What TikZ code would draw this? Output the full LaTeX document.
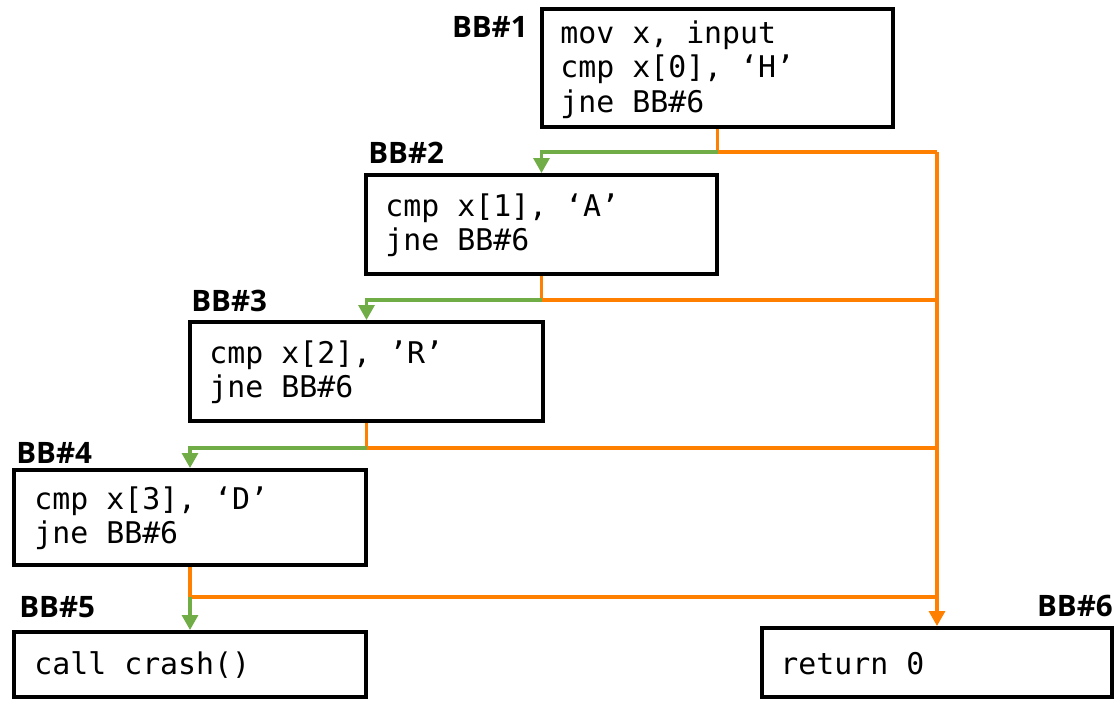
\documentclass[tikz,border=0pt]{standalone}
\usepackage{fontspec}
\newfontfamily\monof{DejaVu Sans Mono}
\newfontfamily\labf{Open Sans}
\usetikzlibrary{arrows.meta}
\definecolor{cgreen}{HTML}{70AD47}
\definecolor{corange}{HTML}{FF8000}
\begin{document}
\begin{tikzpicture}[x=0.02cm,y=-0.02cm,
  bb/.style={draw=black,line width=0.08cm,rectangle,inner sep=0pt},
  code/.style={font=\monof\fontsize{17}{19.6}\selectfont,anchor=west,align=left,inner sep=0pt},
  lab/.style={font=\labf\bfseries\fontsize{16.8}{19}\selectfont,inner sep=0pt},
  tip/.style={-{Triangle[width=0.32cm,length=0.3cm]}},
  yes/.style={draw=cgreen,line width=0.065cm},
  no/.style={draw=corange,line width=0.065cm}]
\useasboundingbox (0,0) rectangle (1115,700);

% boxes
\node[bb,minimum width=7.02cm,minimum height=2.36cm] (b1) at (717.5,68) {};
\node[bb,minimum width=7.02cm,minimum height=1.98cm] (b2) at (541.5,224.5) {};
\node[bb,minimum width=7.06cm,minimum height=1.98cm] (b3) at (366.5,371.5) {};
\node[bb,minimum width=7.04cm,minimum height=1.90cm] (b4) at (190,517.5) {};
\node[bb,minimum width=7.04cm,minimum height=1.30cm] (b5) at (190,664.5) {};
\node[bb,minimum width=7.00cm,minimum height=1.38cm] (b6) at (937,662.5) {};

% code
\node[code] (t1) at ([xshift=0.4cm,yshift=-0.03cm]b1.west) {mov x, input\\cmp x[0], ‘H’\\jne BB\#6};
\node[code] (t2) at ([xshift=0.42cm,yshift=-0.02cm]b2.west) {cmp x[1], ‘A’\\jne BB\#6};
\node[code] (t3) at ([xshift=0.42cm,yshift=-0.02cm]b3.west) {cmp x[2], ’R’\\jne BB\#6};
\node[code] (t4) at ([xshift=0.44cm,yshift=-0.02cm]b4.west) {cmp x[3], ‘D’\\jne BB\#6};
\node[code] (t5) at ([xshift=0.44cm,yshift=-0.02cm]b5.west) {call crash()};
\node[code] (t6) at ([xshift=0.4cm,yshift=-0.02cm]b6.west) {return 0};

% labels
\node[lab,anchor=base east] (l1) at (528,37) {BB\#1};
\node[lab,anchor=base west] (l2) at (368,163) {BB\#2};
\node[lab,anchor=base west] (l3) at (191,311) {BB\#3};
\node[lab,anchor=base west] (l4) at (16,463) {BB\#4};
\node[lab,anchor=base west] (l5) at (19,617) {BB\#5};
\node[lab,anchor=base east] (l6) at (1113,616) {BB\#6};

% junctions
\path (b1.south) ++(0,23) coordinate (j1);
\path (b2.south) ++(0,24) coordinate (j2);
\path (b3.south) ++(0,25) coordinate (j3);
\path (b4.south) ++(0,30) coordinate (j4);

% false branches (orange)
\draw[no] (b1.south) -- (j1) -- (j1 -| b6.north);
\draw[no] (b2.south) -- (j2) -- (j2 -| b6.north);
\draw[no] (b3.south) -- (j3) -- (j3 -| b6.north);
\draw[no] (b4.south) -- (j4) -- (j4 -| b6.north);
\draw[no,tip] (j1 -| b6.north) -- (b6.north);

% true branches (green)
\draw[yes,tip] (j1) -| (b2.north);
\draw[yes,tip] (j2) -| (b3.north);
\draw[yes,tip] (j3) -| (b4.north);
\draw[yes,tip] (j4) -- (b5.north);
\end{tikzpicture}
\end{document}
